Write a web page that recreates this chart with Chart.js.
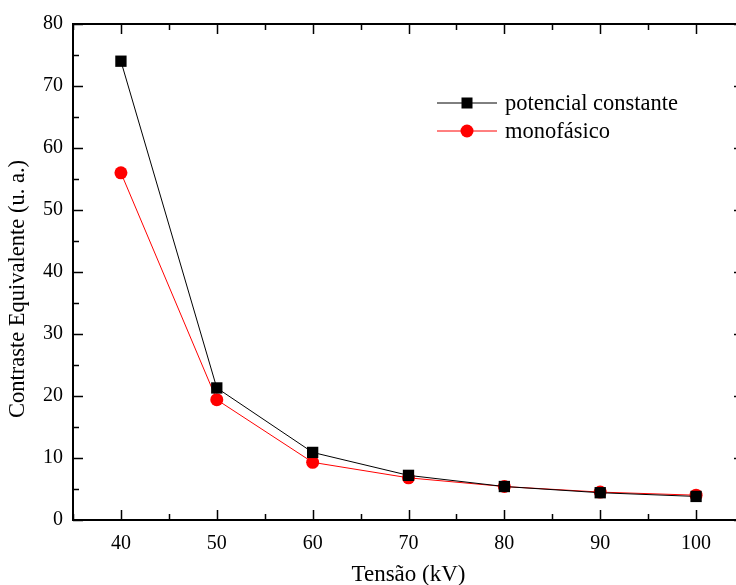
<!DOCTYPE html>
<html>
<head>
<meta charset="utf-8">
<script src="https://cdn.jsdelivr.net/npm/chart.js@4"></script>
<style>
   html, body { margin: 0; padding: 0; background: #fff; overflow: hidden; }
   #wrap { width: 736px; height: 585px; overflow: hidden; }
</style>
</head>
<body>
<div id="wrap"><canvas id="chart1" width="760" height="585"></canvas></div>
<script>
const tensao = [40, 50, 60, 70, 80, 90, 100];
const potencialConstante = [74.0, 21.3, 10.9, 7.2, 5.4, 4.4, 3.8];
const monofasico = [56.0, 19.4, 9.3, 6.8, 5.4, 4.5, 4.0];
const xTicks = [40, 50, 60, 70, 80, 90, 100];
const yTicks = [0, 10, 20, 30, 40, 50, 60, 70, 80];
const yTitle = "Contraste Equivalente (u. a.)";

const serif = "'Liberation Serif', 'Times New Roman', serif";

// frame, inward ticks, y title and legend
const framePlugin = {
   id: "frame",
   afterDraw(chart) {
      const ctx = chart.ctx;
      const area = chart.chartArea;
      const x = chart.scales.x;
      const y = chart.scales.y;
      ctx.save();
      ctx.strokeStyle = "#000";
      ctx.lineWidth = 2;
      ctx.strokeRect(area.left, area.top, area.right - area.left, area.bottom - area.top);

      ctx.lineWidth = 1.5;
      ctx.beginPath();
      for (let v = 35; v <= 105; v += 5) {
         const px = Math.round(x.getPixelForValue(v)) + 0.5;
         const len = v % 10 === 0 ? 10 : 6;
         ctx.moveTo(px, area.bottom);
         ctx.lineTo(px, area.bottom - len);
         ctx.moveTo(px, area.top);
         ctx.lineTo(px, area.top + len);
      }
      for (let v = 0; v <= 80; v += 5) {
         const py = Math.round(y.getPixelForValue(v)) + 0.5;
         const len = v % 10 === 0 ? 10 : 6;
         ctx.moveTo(area.left, py);
         ctx.lineTo(area.left + len, py);
         ctx.moveTo(area.right, py);
         ctx.lineTo(area.right - len, py);
      }
      ctx.stroke();

      // y axis title, sits a bit lower than the plot centre
      ctx.save();
      ctx.translate(18, 289);
      ctx.rotate(-Math.PI / 2);
      ctx.fillStyle = "#000";
      ctx.font = `22.5px ${serif}`;
      ctx.textAlign = "center";
      ctx.textBaseline = "middle";
      ctx.fillText(yTitle, 0, 0);
      ctx.restore();

      // legend
      const lx = 437;
      const rows = [103, 131];
      chart.data.datasets.forEach((ds, i) => {
         const ly = rows[i];
         ctx.strokeStyle = ds.borderColor;
         ctx.lineWidth = 1;
         ctx.beginPath();
         ctx.moveTo(lx, ly);
         ctx.lineTo(lx + 60, ly);
         ctx.stroke();
         ctx.fillStyle = ds.pointBackgroundColor;
         if (ds.pointStyle === "rect") {
            ctx.fillRect(lx + 24.5, ly - 5.5, 11, 11);
         } else {
            ctx.beginPath();
            ctx.arc(lx + 30, ly, 6.5, 0, Math.PI * 2);
            ctx.fill();
         }
         ctx.fillStyle = "#000";
         ctx.font = `22.5px ${serif}`;
         ctx.textBaseline = "middle";
         ctx.fillText(ds.label, lx + 68, ly + 1);
      });
      ctx.restore();
   }
};

const config = {
   type: "line",
   data: {
      datasets: [
         {
            label: "potencial constante",
            data: tensao.map((t, i) => ({ x: t, y: potencialConstante[i] })),
            borderColor: "#000",
            borderWidth: 1,
            pointStyle: "rect",
            pointRadius: 8,
            pointBackgroundColor: "#000",
            pointBorderColor: "#000",
            pointBorderWidth: 0,
            tension: 0
         },
         {
            label: "monofásico",
            data: tensao.map((t, i) => ({ x: t, y: monofasico[i] })),
            borderColor: "#ff0000",
            borderWidth: 1,
            pointStyle: "circle",
            pointRadius: 6.5,
            pointBackgroundColor: "#ff0000",
            pointBorderColor: "#ff0000",
            pointBorderWidth: 0,
            tension: 0
         }
      ]
   },
   options: {
      responsive: false,
      animation: false,
      layout: { padding: { top: 24, right: 16, left: 0, bottom: 0 } },
      plugins: {
         legend: { display: false },
         tooltip: { enabled: false }
      },
      scales: {
         x: {
            type: "linear",
            min: 35,
            max: 105,
            afterBuildTicks: (scale) => { scale.ticks = xTicks.map(v => ({ value: v })); },
            afterFit: (scale) => {
               scale.height = 65;
               scale.paddingLeft = 0;
               scale.paddingRight = 0;
            },
            grid: { display: false, drawTicks: false },
            border: { display: false },
            ticks: {
               color: "#000",
               padding: 12,
               font: { family: serif, size: 20 }
            },
            title: {
               display: true,
               text: "Tensão (kV)",
               color: "#000",
               font: { family: serif, size: 23 },
               padding: { top: 8, bottom: -4 }
            }
         },
         y: {
            type: "linear",
            min: 0,
            max: 80,
            afterBuildTicks: (scale) => { scale.ticks = yTicks.map(v => ({ value: v })); },
            afterFit: (scale) => {
               scale.width = 73;
               scale.paddingTop = 0;
               scale.paddingBottom = 0;
            },
            grid: { display: false, drawTicks: false },
            border: { display: false },
            ticks: {
               color: "#000",
               padding: 10,
               font: { family: serif, size: 20 }
            }
         }
      }
   },
   plugins: [framePlugin]
};

const chart = new Chart(document.querySelector("#chart1"), config);
</script>
</body>
</html>
